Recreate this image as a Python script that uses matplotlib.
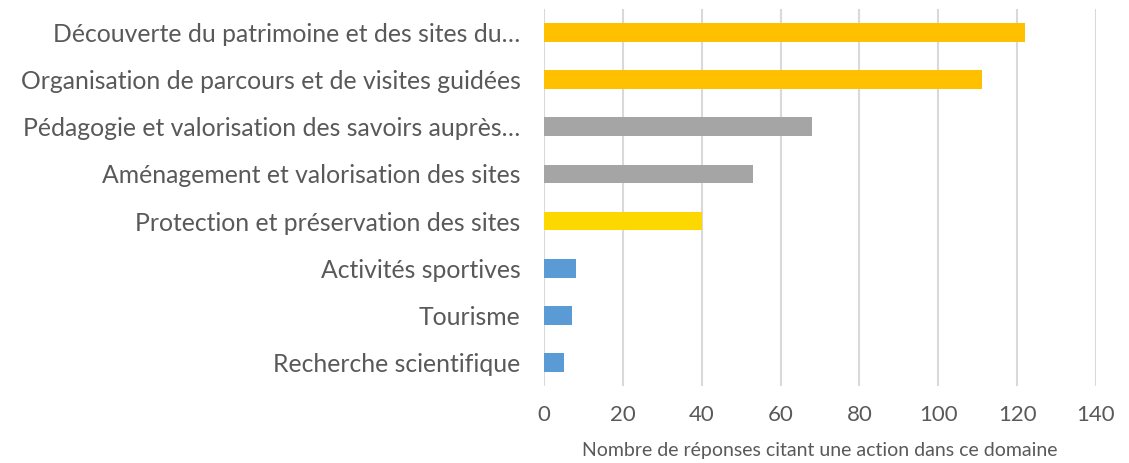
import matplotlib
matplotlib.use("Agg")
import matplotlib.pyplot as plt

categories = [
    "Découverte du patrimoine et des sites du…",
    "Organisation de parcours et de visites guidées",
    "Pédagogie et valorisation des savoirs auprès…",
    "Aménagement et valorisation des sites",
    "Protection et préservation des sites",
    "Activités sportives",
    "Tourisme",
    "Recherche scientifique",
]
values = [122, 111, 68, 53, 40, 8, 7, 5]
colors = ["#FFC000", "#FFC000", "#A5A5A5", "#A5A5A5", "#FCD800",
          "#5B9BD5", "#5B9BD5", "#5B9BD5"]
xticks = [0, 20, 40, 60, 80, 100, 120, 140]
xlabel = "Nombre de réponses citant une action dans ce domaine"

plt.rcParams['font.family'] = ['Lato', 'DejaVu Sans']
text_color = "#595959"

fig = plt.figure(figsize=(11.29, 4.63), dpi=100)
ax = fig.add_axes([544/1129, 1-386/463, (1096-544)/1129, (386-9)/463])

y = list(range(len(categories)))
ax.barh(y, values, height=0.40, color=colors, zorder=3)
ax.set_ylim(len(categories) - 0.5, -0.5)
ax.set_xlim(0, 140)
ax.set_xticks(xticks)
ax.set_xticklabels([str(t) for t in xticks], fontsize=16, color=text_color)
ax.set_yticks(y)
ax.set_yticklabels(categories, fontsize=17.8, color=text_color)
ax.tick_params(axis='y', length=0, pad=17)
ax.tick_params(axis='x', length=0, pad=14)
ax.grid(axis='x', color="#D9D9D9", linewidth=1.5, zorder=0)
for s in ax.spines.values():
    s.set_visible(False)
ax.set_xlabel(xlabel, fontsize=14, color=text_color, labelpad=12)

fig.savefig("out.png", dpi=100)
